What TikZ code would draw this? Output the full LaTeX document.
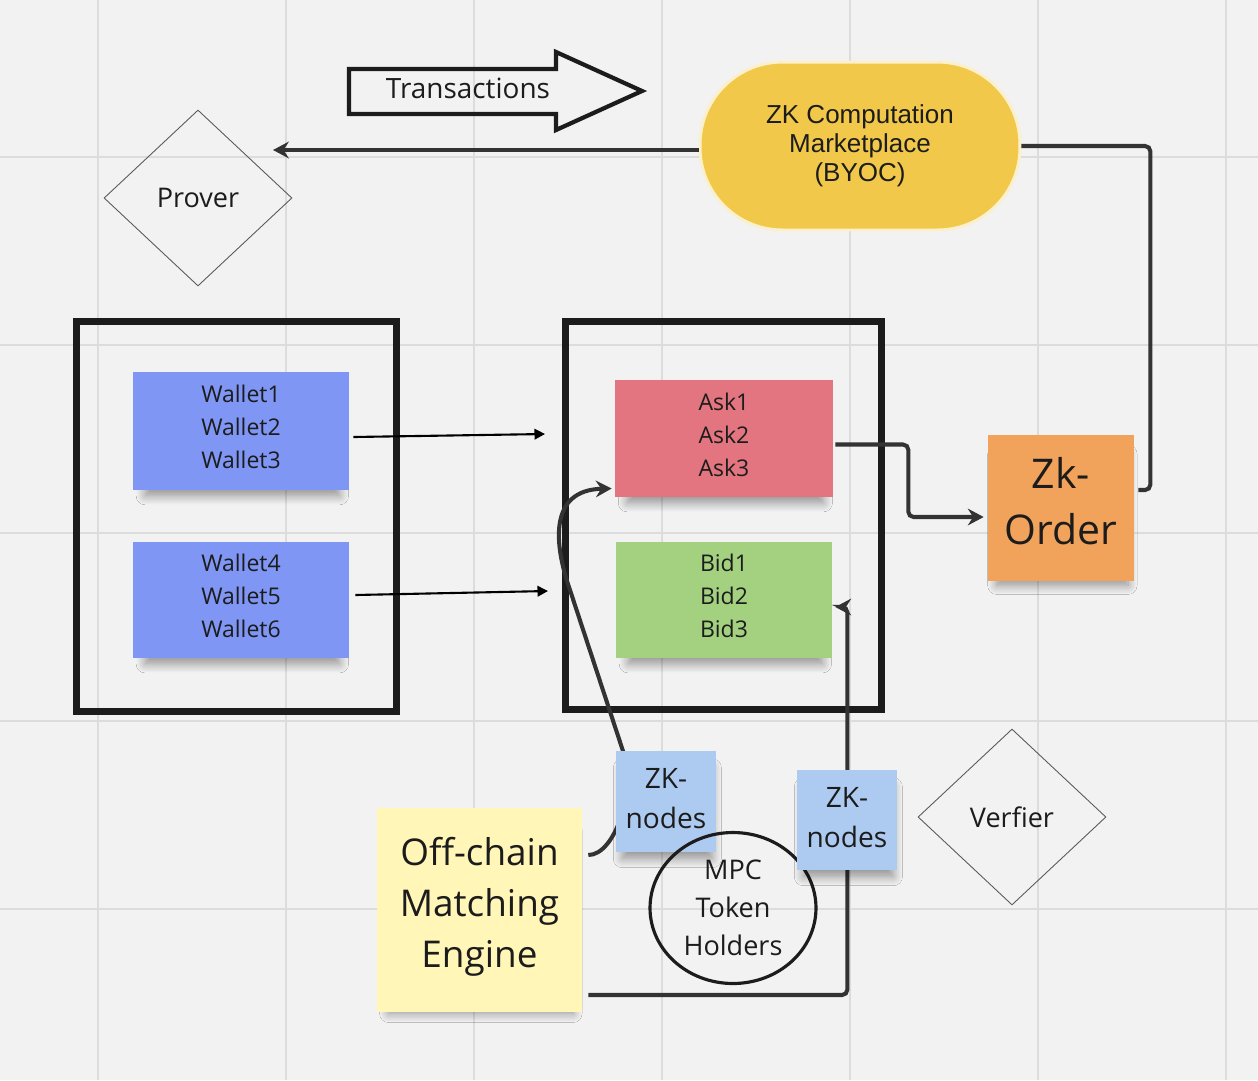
\documentclass[tikz,border=0pt]{standalone}
\usepackage{fontspec}
\setmainfont{Open Sans}
\newfontfamily\arialfont{Liberation Sans}
\usetikzlibrary{arrows.meta,calc,shapes.geometric,shadows.blur}
\definecolor{paper}{HTML}{F2F2F2}
\definecolor{gridgray}{HTML}{DCDCDC}
\definecolor{ink}{HTML}{1C1C1C}
\definecolor{linkgray}{HTML}{333333}
\definecolor{walletblue}{HTML}{7F96F5}
\definecolor{askred}{HTML}{E2757F}
\definecolor{bidgreen}{HTML}{A3D17F}
\definecolor{orderorange}{HTML}{F2A35B}
\definecolor{nodeblue}{HTML}{ADCBF0}
\definecolor{engineyellow}{HTML}{FFF6B8}
\definecolor{marketfill}{HTML}{F2C84B}
\definecolor{marketrim}{HTML}{FBF0CC}
\tikzset{
	gridline/.style={draw=gridgray, line width=1.1pt},
	sticky/.style={rectangle, inner sep=0pt, text=ink, align=center,
		blur shadow={shadow xshift=0.03cm, shadow yshift=-0.26cm, shadow scale=0.9,
			shadow blur radius=0.2cm, shadow blur steps=12, shadow opacity=40}},
	bigbox/.style={rectangle, draw=ink, line width=4pt, inner sep=0pt},
	decision/.style={diamond, draw=black!65, line width=0.5pt, inner sep=0pt,
		minimum width=3.76cm, minimum height=3.52cm, text=ink,
		font=\fontsize{15.4}{18}\selectfont},
	link/.style={draw=linkgray, line width=2.3pt, rounded corners=3pt,
		-{Stealth[length=9pt,width=9.5pt,inset=3pt]}},
	push/.style={draw=black, line width=1.2pt, -{Triangle[length=6pt,width=6pt]}},
	hollow/.style={draw=ink, line width=2.4pt, line join=miter}
}
\begin{document}
\begin{tikzpicture}[x=0.02cm,y=-0.02cm]
	\fill[paper] (0,0) rectangle (1258,1080);
	\useasboundingbox (0,0) rectangle (1258,1080);
	\foreach \x in {98,286,...,1226}
		\draw[gridline] (\x,0) -- (\x,1080);
	\foreach \y in {157,345,...,909}
		\draw[gridline] (0,\y) -- (1258,\y);
	
	\draw[hollow] (349,69) -- (556,69) -- (556,52) -- (642,91) -- (556,130) -- (556,114) -- (349,114) -- cycle;
	\node[text=ink, font=\fontsize{15.9}{18}\selectfont] (tx) at (468,88) {Transactions};
	
	\node[rectangle, rounded corners=1.65cm, minimum width=6.4cm, minimum height=3.36cm,
		fill=marketfill, draw=marketrim, line width=1.7pt, text=ink, align=center,
		font=\arialfont\fontsize{14.8}{16.5}\selectfont] (market) at (860,146)
		{ZK Computation\\Marketplace\\(BYOC)};
	\node[decision] (prover) at (198,198) {Prover};
	\node[decision] (verfier) at (1012,817) {Verfier};
	
	\node[bigbox, minimum width=6.4cm, minimum height=7.8cm] (lbox) at (236.5,516.5) {};
	\node[bigbox, minimum width=6.32cm, minimum height=7.76cm] (rbox) at (723.5,515.5) {};
	
	\node[sticky, fill=walletblue, minimum width=4.32cm, minimum height=2.36cm, text depth=4.6pt,
		font=\fontsize{13.1}{18.8}\selectfont] (wallA) at (241,431) {Wallet1\\Wallet2\\Wallet3};
	\node[sticky, fill=walletblue, minimum width=4.32cm, minimum height=2.32cm, text depth=4.6pt,
		font=\fontsize{13.1}{18.8}\selectfont] (wallB) at (241,600) {Wallet4\\Wallet5\\Wallet6};
	\node[sticky, fill=askred, minimum width=4.36cm, minimum height=2.34cm, text depth=4.6pt,
		font=\fontsize{13.1}{18.8}\selectfont] (ask) at (724,438.5) {Ask1\\Ask2\\Ask3};
	\node[sticky, fill=bidgreen, minimum width=4.32cm, minimum height=2.32cm, text depth=4.6pt,
		font=\fontsize{13.1}{18.8}\selectfont] (bid) at (724,600) {Bid1\\Bid2\\Bid3};
	\node[sticky, fill=orderorange, minimum width=2.92cm, minimum height=2.92cm, text depth=8pt,
		font=\fontsize{23.3}{32}\selectfont] (zkorder) at (1061,508) {Zk-\\Order};
	\node[sticky, fill=engineyellow, minimum width=4.1cm, minimum height=4.08cm, text depth=8.4pt,
		font=\fontsize{21}{29}\selectfont] (off) at (479.5,910) {Off-chain\\Matching\\Engine};
	
	\draw[push] ($(wallA.east)+(4,6)$) -- ($(rbox.west |- wallA.east)+(-17,3)$);
	\draw[push] ($(wallB.east)+(6,-5)$) -- ($(rbox.west |- wallB.east)+(-14,-9)$);
	\coordinate (provin) at (273,150);
	\coordinate (zkentry) at (623,751);
	\draw[link] (market.west |- provin) -- (provin);
	\draw[link, -] (market.east) -| ($(zkorder.east)+(16,-18)$) -- ($(zkorder.east)+(4,-18)$);
	\draw[link] ($(ask.east)+(2,6)$) -- ++(73,0) |- ($(zkorder.west)+(-4,9)$);
	\draw[link] ($(off.east)+(6,-55)$) .. controls ($(off.east)+(33,-55)$) and ($(off.east)+(53,-120)$) .. (zkentry)
		-- (570,590) .. controls (555,545) and (548,490) .. ($(ask.west)+(-3,50)$);
	\draw[link] ($(off.east)+(6,85)$) -| ($(bid.east)+(15,7)$) -- ($(bid.east)+(3,7)$);
	
	\node[sticky, fill=nodeblue, minimum width=2cm, minimum height=2.02cm, text depth=3.4pt,
		font=\fontsize{16}{22.8}\selectfont] (zkn1) at (666,801.5) {ZK-\\nodes};
	\node[ellipse, draw=ink, line width=1.8pt, minimum width=3.32cm, minimum height=3.02cm,
		inner sep=0pt, align=center, text=ink, font=\fontsize{15.4}{21.6}\selectfont] (mpc) at (733,908)
		{MPC\\Token\\Holders};
	\node[sticky, fill=nodeblue, minimum width=2cm, minimum height=2cm, text depth=3.4pt,
		font=\fontsize{16}{22.8}\selectfont] (zkn2) at (847,820) {ZK-\\nodes};
\end{tikzpicture}
\end{document}
